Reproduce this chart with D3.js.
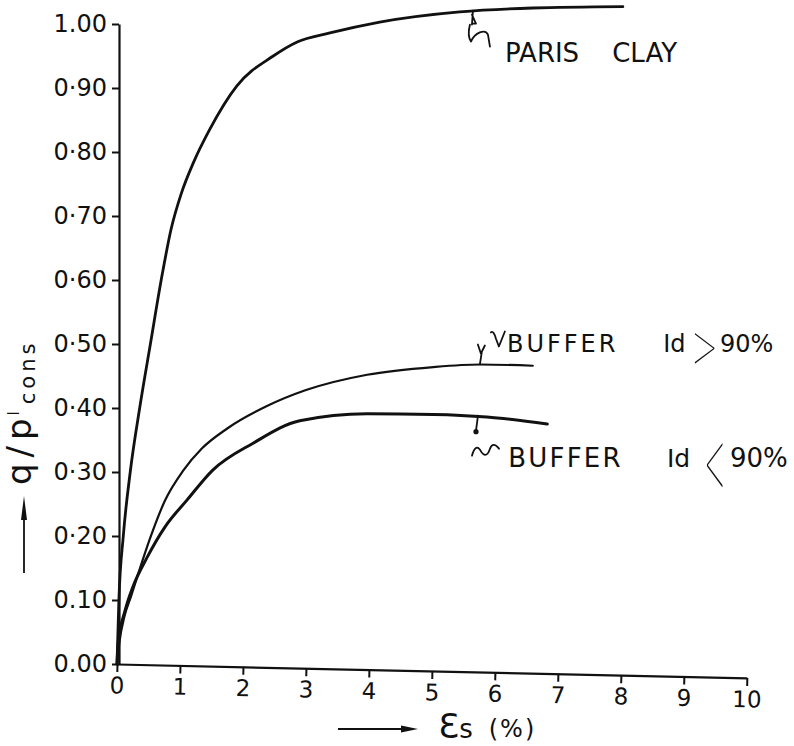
<!DOCTYPE html>
<html>
<head>
<meta charset="utf-8">
<script src="https://cdn.jsdelivr.net/npm/d3@7/dist/d3.min.js"></script>
<style>
  html, body { margin: 0; padding: 0; background: #fff; }
  svg { display: block; }
  text { font-family: "DejaVu Sans", sans-serif; fill: #111; }
</style>
</head>
<body>
<svg id="chart" width="794" height="746"></svg>
<script>
// ---- data ----
const xTickValues = [0,1,2,3,4,5,6,7,8,9,10];
const xTickLabels = ["0","1","2","3","4","5","6","7","8","9","10"];
const yTickValues = [0,0.1,0.2,0.3,0.4,0.5,0.6,0.7,0.8,0.9,1.0];
const yTickLabels = ["0.00","0.10","0·20","0·30","0·40","0·50","0·60","0·70","0·80","0·90","1.00"];

const parisClay = [[0,0],[0.03,0.10],[0.10,0.20],[0.21,0.30],[0.36,0.40],[0.53,0.50],[0.72,0.61],[0.86,0.68],[1.02,0.735],[1.22,0.785],[1.47,0.835],[1.9,0.903],[2.48,0.95],[2.86,0.972],[3.38,0.986],[4.17,1.003],[5.44,1.019],[6.6,1.025],[8.03,1.027]];
const bufferAbove90 = [[0,0],[0.04,0.035],[0.12,0.075],[0.22,0.105],[0.35,0.145],[0.52,0.195],[0.76,0.255],[1.05,0.302],[1.35,0.337],[1.75,0.368],[2.38,0.403],[3.0,0.428],[3.97,0.452],[5.02,0.464],[5.76,0.468],[6.60,0.466]];
const bufferBelow90 = [[0,0],[0.02,0.033],[0.13,0.084],[0.25,0.12],[0.48,0.167],[0.76,0.214],[1.11,0.256],[1.52,0.303],[2.16,0.345],[2.90,0.380],[3.97,0.391],[5.02,0.390],[5.87,0.386],[6.83,0.375]];

const seriesNames = ["PARIS CLAY","BUFFER Id > 90%","BUFFER Id < 90%"];

// ---- layout ----
const svg = d3.select("#chart");
const x = d3.scaleLinear().domain([0,10]).range([117,747]);
const y = d3.scaleLinear().domain([0,1]).range([664,24]);

// y axis
const yAxis = d3.axisLeft(y).tickValues(yTickValues).tickSize(7).tickSizeOuter(0).tickPadding(5)
  .tickFormat((d,i)=>yTickLabels[i]);
const gy = svg.append("g").attr("transform",`translate(${x(0)+2},0)`).call(yAxis);
gy.select(".domain").attr("stroke","#111").attr("stroke-width",2.2);
gy.selectAll(".tick line").attr("stroke","#111").attr("stroke-width",2);
gy.selectAll(".tick text").attr("font-size",24).attr("fill","#111").attr("font-family","DejaVu Sans");

// x axis (slightly tilted, as in the hand drawing)
const xAxis = d3.axisBottom(x).tickValues(xTickValues).tickSize(8).tickSizeOuter(0).tickPadding(5)
  .tickFormat((d,i)=>xTickLabels[i]);
const gx = svg.append("g").attr("transform",`translate(0,${y(0)}) rotate(1.27,${x(0)},0)`).call(xAxis);
gx.select(".domain").attr("stroke","#111").attr("stroke-width",2.2);
gx.selectAll(".tick line").attr("stroke","#111").attr("stroke-width",2);
gx.selectAll(".tick text").attr("font-size",23).attr("fill","#111").attr("font-family","DejaVu Sans");

// curves
const line = d3.line().x(d=>x(d[0])).y(d=>y(d[1])).curve(d3.curveMonotoneX);
svg.append("path").datum(parisClay).attr("d",line).attr("fill","none").attr("stroke","#111").attr("stroke-width",2.8).attr("stroke-linecap","round");
svg.append("path").datum(bufferAbove90).attr("d",line).attr("fill","none").attr("stroke","#111").attr("stroke-width",2.2).attr("stroke-linecap","round");
svg.append("path").datum(bufferBelow90).attr("d",line).attr("fill","none").attr("stroke","#111").attr("stroke-width",3).attr("stroke-linecap","round");

// pointer marks + squiggles (anchored on curves through scales)
const pointers = [
  {ax:5.65, ay:1.021, d:"M0,0 L-1,14 M-1,4 L3,13 L-1,13 M-3,14 C-5,22 -4,28 -2,31 C2,22 12,18 15,24 L17,36"},
  {ax:5.76, ay:0.468, d:"M0,0 L2,-13 M-2,-20 L1,-11 L5,-19 M11,-32 C13,-34 15,-30 16,-26 L19,-18 L25,-33"},
  {ax:5.73, ay:0.388, d:"M0,0 L-2,15 M-6,40 C-4,32 -1,30 2,34 C5,40 9,42 12,33 C14,28 17,28 21,33"}
];
pointers.forEach(p=>{
  svg.append("path").attr("transform",`translate(${x(p.ax)},${y(p.ay)})`)
    .attr("d",p.d).attr("fill","none").attr("stroke","#111").attr("stroke-width",1.8)
    .attr("stroke-linecap","round").attr("stroke-linejoin","round");
});
svg.append("circle").attr("cx",x(5.73)-2).attr("cy",y(0.388)+16).attr("r",2.6).attr("fill","#111");

// labels
const labels = [
  {t:"PARIS", lx:6.16, ly:0.941, fs:26, ls:0},
  {t:"CLAY", lx:7.86, ly:0.941, fs:26, ls:0},
  {t:"BUFFER", lx:6.19, ly:0.4875, fs:24, ls:3},
  {t:"Id", lx:8.67, ly:0.4875, fs:24, ls:0},
  {t:"90%", lx:9.57, ly:0.4875, fs:24, ls:0},
  {t:"BUFFER", lx:6.21, ly:0.308, fs:26, ls:2.2},
  {t:"Id", lx:8.73, ly:0.308, fs:25, ls:0},
  {t:"90%", lx:9.73, ly:0.308, fs:26, ls:0}
];
labels.forEach(l=>{
  svg.append("text").attr("x",x(l.lx)).attr("y",y(l.ly)).attr("font-size",l.fs)
    .attr("letter-spacing",l.ls).text(l.t);
});
// tall, thin comparison signs
const signs = [
  {t:">", lx:9.14, cy:0.5, fs:40, sx:1.25, sy:1.45},
  {t:"<", lx:9.36, cy:0.322, fs:40, sx:1.0, sy:2.1}
];
signs.forEach(s=>{
  const base = y(s.cy) + 0.365*s.fs*s.sy;
  svg.append("text").attr("transform",`translate(${x(s.lx)},${base}) scale(${s.sx},${s.sy})`)
    .attr("font-size",s.fs).attr("x",-0.1*s.fs)
    .style("font-family","Inter, 'Open Sans', 'DejaVu Sans', sans-serif").attr("font-weight",100)
    .text(s.t);
});

// y axis title
const yt = svg.append("text").attr("transform",`translate(31,485) rotate(-90)`).attr("font-size",34);
yt.append("tspan").attr("letter-spacing",6).text("q/p");
yt.append("tspan").attr("font-size",15).attr("dy",-12).attr("dx",-3).text("l");
yt.append("tspan").attr("font-size",21).attr("dy",16).attr("dx",7).attr("letter-spacing",4).text("cons");
// y title arrow
svg.append("line").attr("x1",24).attr("y1",573).attr("x2",24).attr("y2",505).attr("stroke","#111").attr("stroke-width",1.8);
svg.append("path").attr("d","M24,496 L21,520 L27,520 Z").attr("fill","#111");

// x axis title
const xt = svg.append("text").attr("x",x(5.1)).attr("y",y(0)+74);
xt.append("tspan").attr("font-size",34).text("Ɛ");
xt.append("tspan").attr("font-size",26).text("s");
xt.append("tspan").attr("font-size",24).attr("dx",16).attr("dy",-1).attr("letter-spacing",2).text("(%)");
svg.append("line").attr("x1",338).attr("y1",729).attr("x2",408).attr("y2",729).attr("stroke","#111").attr("stroke-width",1.8);
svg.append("path").attr("d","M418,729 L401,725.5 L401,732.5 Z").attr("fill","#111");
</script>
</body>
</html>
